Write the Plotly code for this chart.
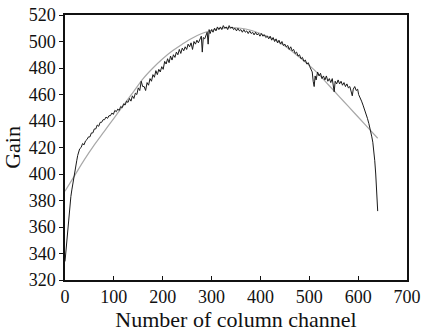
import plotly.graph_objects as go

# Measured gain (black, noisy) per column channel
channel = [0, 2, 4, 6, 8, 10, 12, 14, 16, 18, 20, 22, 24, 26, 28, 30, 33, 36, 39, 42, 45,
           48, 51, 54, 57, 60, 63, 66, 69, 72, 75, 78, 81, 84, 87, 90, 93, 96, 99,
           102, 105, 108, 111, 114, 117, 120, 123, 126, 129, 132, 135, 138, 141, 144, 147,
           150, 153, 156, 159, 162, 165, 168, 171, 174, 177, 180, 183, 186, 189, 192, 195,
           198, 201, 204, 207, 210, 213, 216, 219, 222, 225, 228, 231, 234, 237, 240, 243,
           246, 249, 252, 255, 258, 261, 264, 267, 270, 273, 276, 279, 281, 283, 286, 289,
           291, 293, 295, 297, 300, 303, 306, 309, 312, 315, 318, 321, 324, 327, 330, 333,
           336, 339, 342, 345, 348, 351, 354, 357, 360, 363, 366, 369, 372, 375, 378, 381,
           384, 387, 390, 393, 396, 399, 402, 405, 408, 411, 414, 417, 420, 423, 426, 429,
           432, 435, 438, 441, 444, 447, 450, 453, 456, 459, 462, 465, 468, 471, 474, 477,
           480, 483, 486, 489, 492, 495, 498, 501, 504, 506, 508, 510, 512, 514, 517, 520,
           523, 526, 529, 532, 535, 538, 541, 544, 547, 549, 551, 553, 556, 559, 562, 565,
           568, 571, 574, 577, 580, 583, 586, 588, 590, 593, 596, 599, 601, 604, 607, 610,
           613, 616, 619, 622, 625, 628, 630, 632, 634, 636, 638, 640]
gain = [334, 342, 352, 362, 371, 379, 383, 388, 393, 398, 402, 406, 410, 414, 417, 419, 420,
        423, 422, 425, 426,
        428, 428, 431, 431, 434, 434, 437, 436, 439, 439, 441, 441, 443, 442, 444, 444, 446, 445,
        448, 447, 449, 448, 451, 450, 453, 452, 455, 454, 457, 455, 459, 457, 461, 460,
        465, 463, 470, 466, 466, 463, 469, 467, 472, 470, 475, 473, 478, 475, 479, 477,
        481, 479, 485, 483, 487, 484, 489, 486, 490, 488, 492, 490, 494, 491, 495, 493,
        496, 494, 498, 496, 499, 494, 500, 498, 501, 499, 502, 504, 492, 503, 502, 505,
        507, 498, 509, 506, 509, 507, 510, 508, 511, 509, 511, 509, 512, 510, 511, 509,
        512, 510, 511, 509, 510, 508, 510, 508, 509, 507, 509, 507, 508, 506, 508, 506,
        507, 505, 507, 505, 506, 504, 506, 504, 505, 503, 504, 502, 504, 501, 503, 500,
        502, 499, 501, 498, 500, 497, 498, 496, 497, 494, 496, 493, 494, 491, 492, 489,
        490, 487, 488, 485, 486, 483, 484, 481, 479, 477, 470, 466, 474, 471, 477, 474,
        476, 472, 474, 471, 474, 470, 472, 469, 472, 468, 462, 470, 468, 471, 468, 470,
        467, 469, 466, 468, 465, 466, 462, 459, 464, 466, 463, 464, 460, 458, 455, 452,
        449, 446, 442, 438, 434, 428, 424, 418, 410, 400, 388, 372]

# Fitted curve (gray)
fit_channel = [0, 20, 40, 60, 80, 100, 120, 140, 160, 180, 200, 220, 240, 260, 280, 300,
               320, 340, 360, 380, 400, 420, 440, 460, 480, 500, 520, 540, 560, 580, 600,
               620, 640]
fit_gain = [387, 399, 411, 422, 432, 442, 452, 462, 472, 480, 487, 493, 498, 502.5, 506,
            508.5, 510, 510.5, 510, 508.5, 506, 503, 499, 494, 488, 482, 475, 467, 459,
            451, 443, 435, 427]

x_ticks = [0, 100, 200, 300, 400, 500, 600, 700]
y_ticks = [320, 340, 360, 380, 400, 420, 440, 460, 480, 500, 520]

fig = go.Figure()
fig.add_trace(go.Scatter(x=fit_channel, y=fit_gain, mode="lines",
                         line=dict(color="#a8a8a8", width=1.2, shape="spline"),
                         showlegend=False))
fig.add_trace(go.Scatter(x=channel, y=gain, mode="lines",
                         line=dict(color="#1a1a1a", width=1.0),
                         showlegend=False))

font = dict(family="Liberation Serif", size=18, color="#111")
fig.update_layout(
    width=422, height=332,
    margin=dict(l=65, r=15, t=15, b=52),
    paper_bgcolor="white", plot_bgcolor="white",
    font=font,
    xaxis=dict(range=[0, 700], tickvals=x_ticks, ticks="inside", ticklen=4,
               tickcolor="#111", showline=True, linecolor="#111", linewidth=1.5,
               mirror=True, showgrid=False, zeroline=False, automargin=False,
               title=dict(text="Number of column channel", standoff=2),
               tickfont=font),
    yaxis=dict(range=[320, 520], tickvals=y_ticks, ticks="outside", ticklen=4,
               tickcolor="#111", showline=True, linecolor="#111", linewidth=1.5,
               mirror=True, showgrid=False, zeroline=False, automargin=False,
               title=dict(text="Gain", standoff=4),
               tickfont=font),
)

fig.write_html("out.html")
